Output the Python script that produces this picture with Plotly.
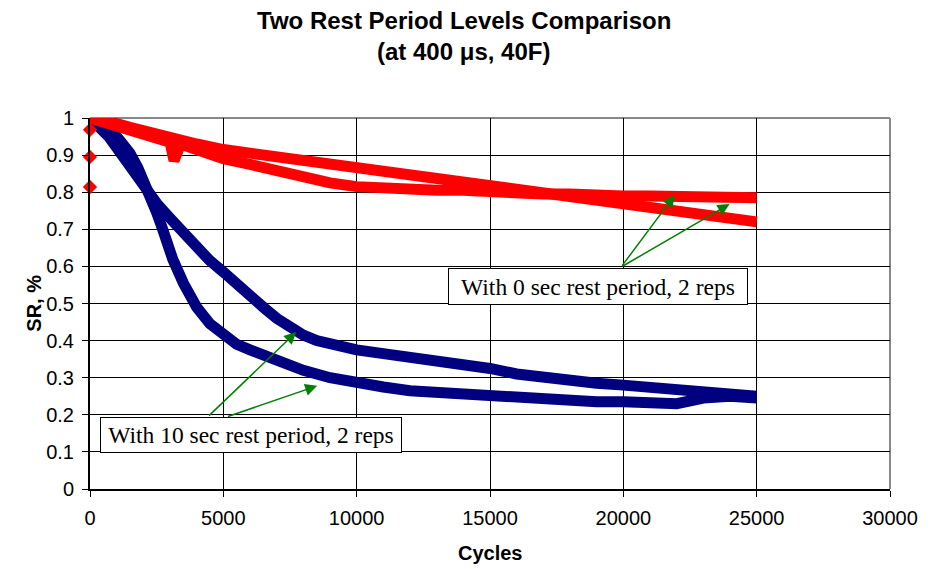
import plotly.graph_objects as go

# ---- data ----
blue_slow_x = [0, 300, 700, 1100, 1500, 1800, 2100, 2500, 3000, 3500, 4000, 4500, 5000, 5500, 6000,
               6500, 7000, 7500, 8000, 8500, 9000, 10000, 11000, 12000, 13000, 14000, 15000, 16000,
               17000, 18000, 19000, 20000, 21000, 22000, 23000, 24000, 25000]
blue_slow_y = [1.0, 0.98, 0.95, 0.91, 0.87, 0.84, 0.805, 0.77, 0.73, 0.69, 0.65, 0.615, 0.585, 0.55, 0.52,
               0.49, 0.46, 0.435, 0.415, 0.40, 0.39, 0.375, 0.365, 0.355, 0.35, 0.34, 0.325, 0.31,
               0.30, 0.295, 0.285, 0.28, 0.275, 0.265, 0.26, 0.255, 0.25]

blue_fast_x = [0, 500, 1000, 1500, 1800, 2100, 2300, 2500, 2700, 2900, 3100, 3500, 4000, 4500, 5000,
               5500, 6000, 6500, 7000, 8000, 9000, 10000, 11000, 12000, 13000, 14000, 15000, 16000,
               17000, 18000, 19000, 20000, 21000, 22000, 23000, 24000, 25000]
blue_fast_y = [1.0, 0.985, 0.95, 0.905, 0.865, 0.82, 0.785, 0.745, 0.705, 0.66, 0.62, 0.555, 0.49, 0.445, 0.415,
               0.39, 0.375, 0.36, 0.345, 0.32, 0.30, 0.285, 0.275, 0.265, 0.26, 0.255, 0.25, 0.245,
               0.24, 0.24, 0.235, 0.235, 0.23, 0.23, 0.245, 0.25, 0.245]

red_a_x = [0, 500, 1000, 1500, 2000, 2500, 3000, 3150, 3250, 3400, 4000, 5000, 6000, 7000, 8000, 9000,
           10000, 11000, 12000, 13000, 14000, 15000, 16000, 17000, 18000, 19000, 20000, 21000,
           22000, 23000, 24000, 25000]
red_a_y = [1.0, 0.99, 0.975, 0.965, 0.955, 0.945, 0.935, 0.885, 0.9, 0.93, 0.915, 0.89, 0.875, 0.857, 0.84, 0.825,
           0.815, 0.81, 0.81, 0.805, 0.805, 0.80, 0.80, 0.795, 0.795, 0.79, 0.79, 0.79,
           0.79, 0.785, 0.785, 0.785]

red_b_x = [0, 500, 1000, 1500, 2000, 2500, 3000, 4000, 5000, 6000, 7000, 8000, 9000, 10000, 11000,
           12000, 13000, 14000, 15000, 16000, 17000, 18000, 19000, 20000, 21000, 22000, 23000, 24000, 25000]
red_b_y = [1.0, 0.995, 0.985, 0.975, 0.965, 0.955, 0.945, 0.93, 0.915, 0.905, 0.895, 0.885, 0.875, 0.865, 0.855,
           0.845, 0.84, 0.83, 0.82, 0.81, 0.80, 0.79, 0.775, 0.765, 0.755, 0.745, 0.74, 0.73, 0.72]

red_start_x = [0, 0, 0]
red_start_y = [0.968, 0.895, 0.814]

x_ticks = [0, 5000, 10000, 15000, 20000, 25000, 30000]
x_tick_labels = ["0", "5000", "10000", "15000", "20000", "25000", "30000"]
y_ticks = [0, 0.1, 0.2, 0.3, 0.4, 0.5, 0.6, 0.7, 0.8, 0.9, 1]
y_tick_labels = ["0", "0.1", "0.2", "0.3", "0.4", "0.5", "0.6", "0.7", "0.8", "0.9", "1"]

title_line1 = "Two Rest Period Levels Comparison"
title_line2 = "(at 400 μs, 40F)"
label_red = "With 0 sec rest period, 2 reps"
label_blue = "With 10 sec rest period, 2 reps"

NAVY = "#000080"
RED = "#FF0000"
GREEN = "#008000"
SANS = "Liberation Sans, Arial, sans-serif"
SERIF = "Liberation Serif, Times New Roman, serif"

fig = go.Figure()
for xs, ys, col in [(blue_slow_x, blue_slow_y, NAVY),
                    (blue_fast_x, blue_fast_y, NAVY),
                    (red_a_x, red_a_y, RED),
                    (red_b_x, red_b_y, RED)]:
    fig.add_trace(go.Scatter(x=xs, y=ys, mode="lines", line=dict(color=col, width=11),
                             cliponaxis=False, showlegend=False, hoverinfo="skip"))
fig.add_trace(go.Scatter(x=red_start_x, y=red_start_y, mode="markers",
                         marker=dict(symbol="diamond", size=11, color=RED),
                         cliponaxis=False, showlegend=False, hoverinfo="skip"))

fig.update_layout(
    width=930, height=569,
    margin=dict(l=90, r=37, t=118, b=80),
    paper_bgcolor="white", plot_bgcolor="white",
    font=dict(family=SANS, size=20, color="black"),
    xaxis=dict(range=[0, 30000], tickvals=x_ticks, ticktext=x_tick_labels, showgrid=True,
               gridcolor="black", gridwidth=1,
               showline=True, linecolor="black", linewidth=2, ticks="outside", ticklen=6,
               tickcolor="black", tickwidth=1, zeroline=False, ticklabelstandoff=4,
               tickfont=dict(size=20)),
    yaxis=dict(range=[0, 1], tickvals=y_ticks, ticktext=y_tick_labels, showgrid=True,
               gridcolor="black", gridwidth=1,
               showline=True, linecolor="black", linewidth=2, ticks="outside", ticklen=6,
               tickcolor="black", tickwidth=1, zeroline=False, ticklabelstandoff=4,
               tickfont=dict(size=20)),
    shapes=[
        dict(type="line", xref="paper", yref="paper", x0=0, x1=1, y0=1, y1=1,
             line=dict(color="#888888", width=2), layer="between"),
        dict(type="line", xref="paper", yref="paper", x0=1, x1=1, y0=0, y1=1,
             line=dict(color="#888888", width=2), layer="between"),
    ],
)

# title (two lines)
fig.add_annotation(text="<b>" + title_line1 + "</b>", xref="paper", yref="paper",
                   x=(465 - 90) / 803, y=(489 - 20) / 371, showarrow=False,
                   font=dict(family=SANS, size=24), xanchor="center", yanchor="middle")
fig.add_annotation(text="<b>" + title_line2 + "</b>", xref="paper", yref="paper",
                   x=(465 - 90) / 803, y=(489 - 51) / 371, showarrow=False,
                   font=dict(family=SANS, size=24), xanchor="center", yanchor="middle")

# axis titles
fig.add_annotation(text="<b>Cycles</b>", xref="paper", yref="paper", x=0.5, y=-0.1725,
                   showarrow=False, font=dict(family=SANS, size=20), xanchor="center", yanchor="middle")
fig.add_annotation(text="<b>SR, %</b>", xref="paper", yref="paper", x=(33 - 90) / 803, y=0.5,
                   textangle=-90, showarrow=False, font=dict(family=SANS, size=20),
                   xanchor="center", yanchor="middle")

# green arrows
arrows = [
    (19913, 0.598, 21930, 0.792),
    (19913, 0.598, 23985, 0.768),
    (4408, 0.194, 7733, 0.423),
    (5118, 0.194, 8518, 0.278),
]
for tx, ty, hx, hy in arrows:
    fig.add_annotation(x=hx, y=hy, ax=tx, ay=ty, xref="x", yref="y", axref="x", ayref="y",
                       text="", showarrow=True, arrowhead=2, arrowsize=1.6, arrowwidth=1.5,
                       arrowcolor=GREEN, standoff=0, startstandoff=0)

# labels
fig.add_annotation(text=label_red, x=19054, y=0.5458, xref="x", yref="y", showarrow=False,
                   font=dict(family=SERIF, size=23.5, color="black"), bgcolor="white",
                   bordercolor="black", borderwidth=1, borderpad=1, width=296, height=33,
                   xanchor="center", yanchor="middle", align="center")
fig.add_annotation(text=label_blue, x=6052, y=0.1456, xref="x", yref="y", showarrow=False,
                   font=dict(family=SERIF, size=23.5, color="black"), bgcolor="white",
                   bordercolor="black", borderwidth=1, borderpad=1, width=298, height=32,
                   xanchor="center", yanchor="middle", align="center")

fig.write_html("out.html")
